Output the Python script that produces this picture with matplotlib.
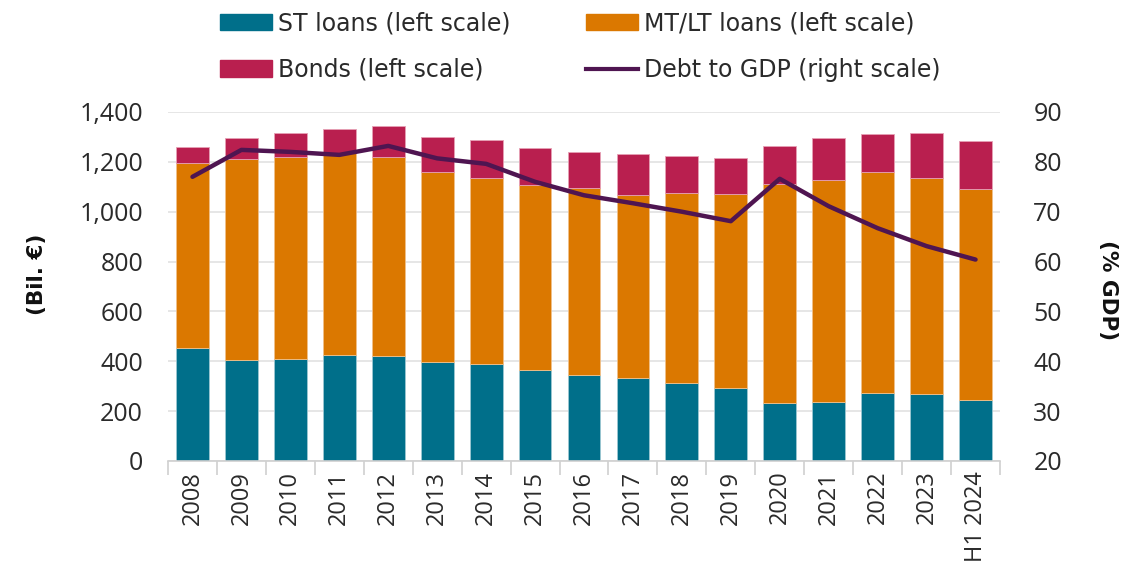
import matplotlib
matplotlib.use("Agg")
import matplotlib.pyplot as plt
import numpy as np
from matplotlib.patches import Patch
from matplotlib.lines import Line2D

categories = ["2008", "2009", "2010", "2011", "2012", "2013", "2014", "2015", "2016",
              "2017", "2018", "2019", "2020", "2021", "2022", "2023", "H1 2024"]
st_loans = [452, 406, 410, 425, 422, 398, 390, 366, 345, 334, 314, 293, 234, 238, 274, 269, 246]
mtlt_cum = [1194, 1211, 1218, 1234, 1218, 1159, 1135, 1107, 1094, 1067, 1075, 1070, 1110, 1126, 1161, 1134, 1091]
total = [1258, 1294, 1316, 1330, 1343, 1298, 1289, 1256, 1238, 1233, 1225, 1215, 1265, 1297, 1313, 1314, 1282]
debt_gdp = [77.0, 82.4, 82.0, 81.4, 83.2, 80.7, 79.6, 76.0, 73.3, 71.7, 70.0, 68.1, 76.6, 71.1, 66.7, 63.1, 60.4]

mtlt = [m - s for m, s in zip(mtlt_cum, st_loans)]
bonds = [t - m for t, m in zip(total, mtlt_cum)]

C_ST = "#006F8A"
C_MT = "#DB7800"
C_BO = "#B91F4F"
C_LN = "#4F1551"
FONT = "Open Sans"
TXT = "#2a2a2a"

fig = plt.figure(figsize=(11.42, 5.70), dpi=100)
ax = fig.add_axes([168/1142, 1-461/570, 832/1142, 349/570])
x = np.arange(len(categories))
w = 0.67
ax.bar(x, st_loans, w, color=C_ST, edgecolor="#9cc7d2", linewidth=0.6, zorder=2)
ax.bar(x, mtlt, w, bottom=st_loans, color=C_MT, edgecolor="#f0c08a", linewidth=0.6, zorder=2)
ax.bar(x, bonds, w, bottom=mtlt_cum, color=C_BO, edgecolor="#e6a0b5", linewidth=0.6, zorder=2)
ax.set_xlim(-0.5, len(categories) - 0.5)
ax.set_ylim(0, 1400)
ax.set_yticks(np.arange(0, 1401, 200))
ax.set_yticklabels([f"{v:,}" for v in range(0, 1401, 200)])
ax.grid(axis="y", color="#e2e2e2", linewidth=1.2, zorder=0)
ax.set_axisbelow(True)
for s in ["top", "left", "right"]:
    ax.spines[s].set_visible(False)
ax.spines["bottom"].set_color("#d0d0d0")
ax.spines["bottom"].set_linewidth(1.2)
ax.set_xticks(x)
ax.set_xticklabels(categories, rotation=90, fontsize=17, family=FONT, color=TXT)
ax.set_xticks(np.arange(-0.5, len(categories), 1), minor=True)
ax.tick_params(axis="x", which="major", length=0, pad=7)
ax.tick_params(axis="x", which="minor", length=10, color="#d0d0d0", width=1.2)
ax.tick_params(axis="y", length=0, pad=18, labelsize=18, labelcolor=TXT)
for lb in ax.get_yticklabels():
    lb.set_family(FONT)
ax.set_ylabel("(Bil. €)", fontsize=15.5, fontweight="bold", family="DejaVu Sans", color="#111111",
              va="center")
ax.yaxis.set_label_coords((37 - 168) / 832, (461 - 274) / 349)

ax2 = ax.twinx()
ax2.plot(x, debt_gdp, color=C_LN, linewidth=3.2, zorder=5, solid_capstyle="round")
ax2.set_ylim(20, 90)
ax2.set_yticks(np.arange(20, 91, 10))
for s in ["top", "left", "right", "bottom"]:
    ax2.spines[s].set_visible(False)
ax2.tick_params(axis="y", length=0, pad=24, labelsize=18, labelcolor=TXT)
for lb in ax2.get_yticklabels():
    lb.set_family(FONT)
ax2.set_ylabel("(% GDP)", fontsize=15.5, fontweight="bold", family="DejaVu Sans", rotation=270,
               color="#111111", va="center")
ax2.yaxis.set_label_coords((1108 - 168) / 832, (461 - 290) / 349)

handles = [Patch(color=C_ST), Patch(color=C_MT), Patch(color=C_BO),
           Line2D([0], [0], color=C_LN, linewidth=3.0)]
labels = ["ST loans (left scale)", "MT/LT loans (left scale)", "Bonds (left scale)", "Debt to GDP (right scale)"]
order = [0, 2, 1, 3]
leg = fig.legend([handles[i] for i in order], [labels[i] for i in order], ncol=2,
                 loc="upper left", bbox_to_anchor=(199/1142, 1.0175), frameon=False,
                 prop={"family": "DejaVu Sans", "size": 17},
                 handlelength=2.2, handleheight=0.7, handletextpad=0.25,
                 columnspacing=3.2, labelspacing=0.96)
for t in leg.get_texts():
    t.set_color(TXT)

fig.savefig("out.png", dpi=100)
